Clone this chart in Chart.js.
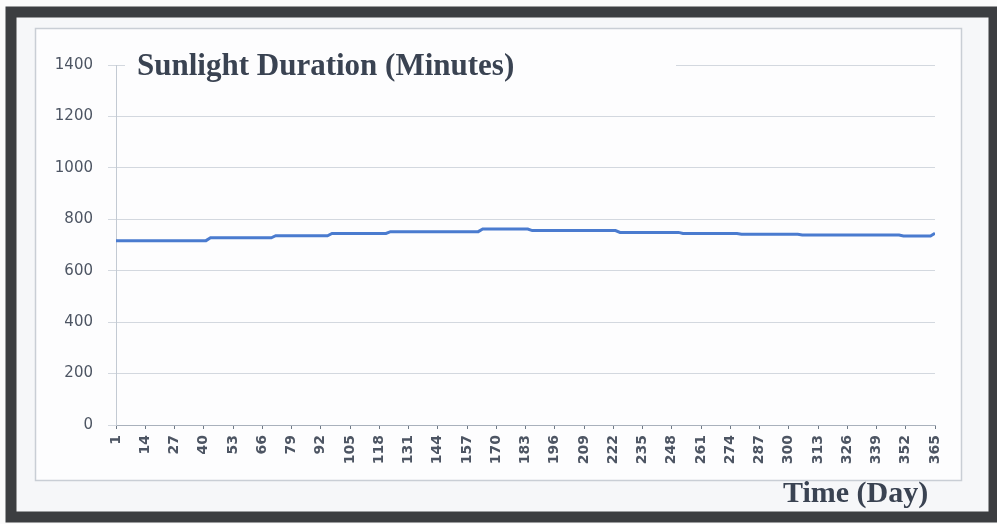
<!DOCTYPE html>
<html>
<head>
<meta charset="utf-8">
<title>Sunlight Duration (Minutes)</title>
<script src="https://cdn.jsdelivr.net/npm/chart.js@4.4.1/dist/chart.umd.min.js"></script>
<style>
  html, body { margin: 0; padding: 0; background: #fbfbfb; }
  canvas { display: block; }
</style>
</head>
<body>
<canvas id="chart" width="997" height="524"></canvas>
<script>
// Day of year where each reading was taken (breakpoints of the stepped curve)
const days = [1, 41, 43, 70, 72, 95, 97, 121, 123, 162, 164, 184, 186, 223,
              225, 251, 253, 277, 279, 304, 306, 349, 351, 363, 365];
// Sunlight duration in minutes on those days
const minutes = [717, 717, 728, 728, 736, 736, 745, 745, 752, 752, 762, 762, 756, 756,
                 749, 749, 745, 745, 742, 742, 739, 739, 735, 735, 746];
// Labelled days on the time axis
const tickLabels = [1, 14, 27, 40, 53, 66, 79, 92, 105, 118, 131, 144, 157, 170, 183,
                    196, 209, 222, 235, 248, 261, 274, 287, 300, 313, 326, 339, 352, 365];
// Value axis ticks
const yTicks = [0, 200, 400, 600, 800, 1000, 1200, 1400];

const chartTitle = 'Sunlight Duration (Minutes)';
const xTitle = 'Time (Day)';

const points = days.map((d, i) => ({ x: d, y: minutes[i] }));

// Frame, panel and title text drawn around the plot
const decor = {
  id: 'decor',
  beforeDraw(chart) {
    const ctx = chart.ctx;
    ctx.save();
    ctx.fillStyle = '#fbfbfb';
    ctx.fillRect(0, 0, chart.width, chart.height);
    // thick dark frame
    ctx.fillStyle = '#f6f7f9';
    ctx.fillRect(11, 12, 983, 505);
    ctx.strokeStyle = '#3c3e41';
    ctx.lineWidth = 11;
    ctx.strokeRect(11, 12, 983, 505);
    // chart panel
    ctx.fillStyle = '#fdfdfe';
    ctx.fillRect(35.5, 28.5, 926, 452);
    ctx.strokeStyle = '#c9ced5';
    ctx.lineWidth = 1.5;
    ctx.strokeRect(35.5, 28.5, 926, 452);
    ctx.restore();
  },
  afterDraw(chart) {
    const ctx = chart.ctx;
    ctx.save();
    // title box sits over the top gridline
    ctx.fillStyle = '#fdfdfe';
    ctx.fillRect(125, 50, 551, 30);
    ctx.fillStyle = '#3a4352';
    ctx.font = 'bold 31px "Liberation Serif", "Times New Roman", serif';
    ctx.textBaseline = 'alphabetic';
    ctx.textAlign = 'left';
    ctx.fillText(chartTitle, 137, 75);
    ctx.font = 'bold 30px "Liberation Serif", "Times New Roman", serif';
    ctx.fillText(xTitle, 783, 502);
    ctx.restore();
  }
};

new Chart(document.getElementById('chart'), {
  type: 'line',
  data: {
    datasets: [{
      data: points,
      borderColor: '#4a7bcf',
      borderWidth: 3,
      pointRadius: 0,
      tension: 0,
      fill: false
    }]
  },
  options: {
    responsive: false,
    animation: false,
    devicePixelRatio: 1,
    layout: { padding: { left: 0, right: 62, top: 65, bottom: 0 } },
    plugins: {
      legend: { display: false },
      tooltip: { enabled: false },
      title: { display: false }
    },
    scales: {
      x: {
        type: 'linear',
        min: 1,
        max: 365,
        afterFit(scale) { scale.height = 99; },
        afterBuildTicks(scale) {
          const t = [];
          for (let d = 1; d <= 365; d++) t.push({ value: d });
          scale.ticks = t;
        },
        ticks: {
          autoSkip: false,
          minRotation: 90,
          maxRotation: 90,
          padding: 6,
          color: '#4d5563',
          font: { family: '"DejaVu Sans", sans-serif', size: 14, weight: 'bold' },
          callback: (v) => tickLabels.includes(v) ? String(v) : null
        },
        grid: {
          drawOnChartArea: false,
          drawTicks: true,
          tickLength: 4,
          color: '#6f7986',
          lineWidth: 1
        },
        border: { display: true, color: '#a9b1bc', width: 1 }
      },
      y: {
        min: 0,
        max: 1400,
        afterFit(scale) { scale.width = 116; },
        afterBuildTicks(scale) {
          scale.ticks = yTicks.map(v => ({ value: v }));
        },
        ticks: {
          padding: 15,
          color: '#4d5563',
          font: { family: '"DejaVu Sans", sans-serif', size: 15 },
          callback: (v) => String(v)
        },
        grid: {
          color: '#d3d8df',
          lineWidth: 1,
          tickLength: 8
        },
        border: { display: true, color: '#c3cad3', width: 1 }
      }
    }
  },
  plugins: [decor]
});
</script>
</body>
</html>
